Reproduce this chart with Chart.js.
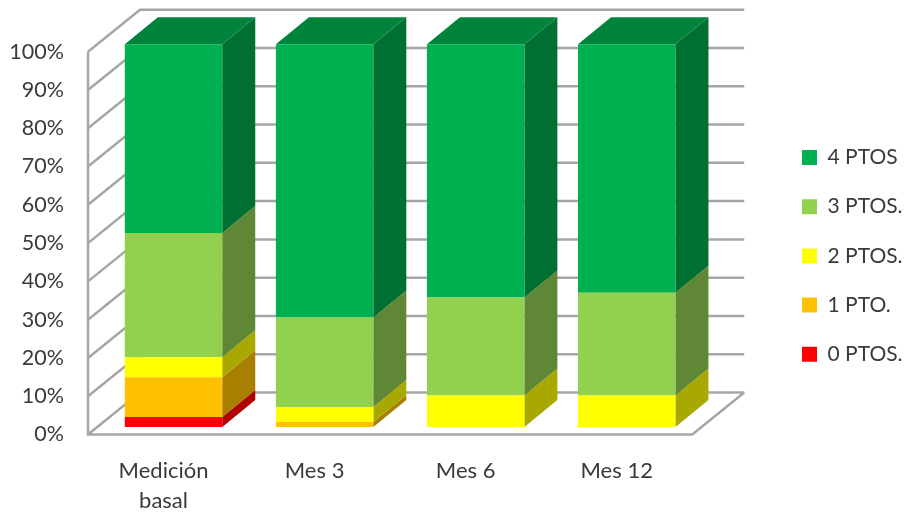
<!DOCTYPE html>
<html>
<head>
<meta charset="utf-8">
<title>Puntuación por visita</title>
<script src="https://cdn.jsdelivr.net/npm/chart.js@4/dist/chart.umd.min.js"></script>
<style>
  html, body { margin: 0; background: #fff; }
  #wrap { position: relative; width: 910px; height: 513px; }
</style>
</head>
<body>
<div id="wrap"><canvas id="chart"></canvas></div>
<script>
const categories = [['Medición', 'basal'], 'Mes 3', 'Mes 6', 'Mes 12'];
const seriesNames = ['0 PTOS.', '1 PTO.', '2 PTOS.', '3 PTOS.', '4 PTOS'];
const pts0 = [2.6, 0, 0, 0];
const pts1 = [10.4, 1.3, 0, 0];
const pts2 = [5.2, 3.9, 8.2, 8.2];
const pts3 = [32.5, 23.4, 25.6, 26.9];
const pts4 = [49.3, 71.4, 66.2, 64.9];

const frontColors = ['#FF0000', '#FFC000', '#FFFF00', '#92D050', '#00B050'];
const sideColors = ['#B00000', '#A87F00', '#A8A800', '#5F8735', '#006F32'];
const topColor = '#00843C';
const lineColor = '#A6A6A6';
const textColor = '#3A3A3A';

// fake 3D box: wall depth, bar depth and how far bars sit inside the floor
const WALL_DX = 52, WALL_DY = 42;
const BAR_DX = 33, BAR_DY = 27;
const BAR_SHIFT_X = 10, BAR_SHIFT_Y = 7.5;

function poly(ctx, color, pts) {
  ctx.fillStyle = color;
  ctx.beginPath();
  pts.forEach((p, i) => i ? ctx.lineTo(p[0], p[1]) : ctx.moveTo(p[0], p[1]));
  ctx.closePath();
  ctx.fill();
}

function drawWalls(chart) {
  const { ctx, chartArea: a, scales: { y } } = chart;
  ctx.save();
  ctx.strokeStyle = lineColor;
  ctx.lineWidth = 2.5;
  ctx.beginPath();
  y.ticks.forEach(t => {
    const py = y.getPixelForValue(t.value);
    ctx.moveTo(a.left, py);
    ctx.lineTo(a.left + WALL_DX, py - WALL_DY);
    ctx.lineTo(a.right + WALL_DX, py - WALL_DY);
  });
  ctx.moveTo(a.left, a.top);
  ctx.lineTo(a.left, a.bottom);
  ctx.lineTo(a.right, a.bottom);
  ctx.lineTo(a.right + WALL_DX, a.bottom - WALL_DY);
  ctx.stroke();
  ctx.restore();
}

function drawBarDepth(chart) {
  const ctx = chart.ctx;
  const tops = {};
  chart.data.datasets.forEach((ds, i) => {
    chart.getDatasetMeta(i).data.forEach((el, j) => {
      if (!ds.data[j]) return;
      const r = el.x + el.width / 2;
      poly(ctx, sideColors[i], [
        [r, el.base], [r + BAR_DX, el.base - BAR_DY],
        [r + BAR_DX, el.y - BAR_DY], [r, el.y]
      ]);
      tops[j] = el;
    });
  });
  Object.values(tops).forEach(el => {
    const l = el.x - el.width / 2, r = el.x + el.width / 2;
    poly(ctx, topColor, [
      [l, el.y], [r, el.y], [r + BAR_DX, el.y - BAR_DY], [l + BAR_DX, el.y - BAR_DY]
    ]);
  });
}

const box3d = {
  id: 'box3d',
  afterLayout(chart) {
    // the legend floats well clear of the floor edge
    const lg = chart.legend;
    const pad = lg.options.labels.padding;
    lg.left = 802 - pad;
    lg.right = chart.width;
    lg.top = 147 - pad;
    lg.bottom = chart.height;
  },
  beforeDatasetsDraw(chart) {
    drawWalls(chart);
    chart.ctx.save();
    chart.ctx.translate(BAR_SHIFT_X, -BAR_SHIFT_Y);
    drawBarDepth(chart);
  },
  afterDatasetsDraw(chart) {
    chart.ctx.restore();
  }
};

const seriesValues = [pts0, pts1, pts2, pts3, pts4];

new Chart(document.getElementById('chart'), {
  type: 'bar',
  plugins: [box3d],
  data: {
    labels: categories,
    datasets: seriesNames.map((name, i) => ({
      label: name,
      data: seriesValues[i],
      backgroundColor: frontColors[i],
      borderWidth: 0,
      clip: false,
      categoryPercentage: 1,
      barPercentage: 0.645
    }))
  },
  options: {
    responsive: true,
    maintainAspectRatio: false,
    animation: false,
    layout: { padding: { left: 0, right: 79, top: 51.7, bottom: 0 } },
    scales: {
      x: {
        stacked: true,
        border: { display: false },
        grid: { display: false, drawTicks: false },
        afterFit(scale) { scale.height = 78.5; },
        ticks: {
          color: textColor,
          padding: 21,
          maxRotation: 0,
          autoSkip: false,
          font: { family: 'Lato', size: 22, lineHeight: 1.37 }
        }
      },
      y: {
        stacked: true,
        min: 0,
        max: 100,
        border: { display: false },
        grid: { display: false, drawTicks: false },
        afterFit(scale) { scale.width = 88; },
        ticks: {
          stepSize: 10,
          color: textColor,
          padding: 24,
          font: { family: 'Lato', size: 21.5 },
          callback: v => v + '%'
        }
      }
    },
    plugins: {
      tooltip: { enabled: false },
      legend: {
        position: 'right',
        align: 'start',
        reverse: true,
        labels: {
          boxWidth: 15,
          boxHeight: 15,
          padding: 28.2,
          color: textColor,
          font: { family: 'Lato', size: 21 }
        }
      }
    }
  }
});
</script>
</body>
</html>
